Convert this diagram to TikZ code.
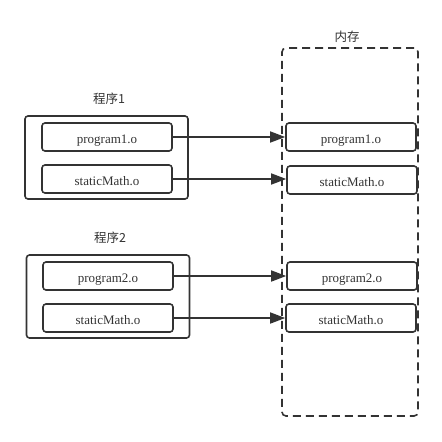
\documentclass[tikz,border=0pt]{standalone}
\usepackage{fontspec}
\setmainfont{Liberation Serif}
\newfontfamily\cjk{Noto Sans CJK SC}
\usetikzlibrary{arrows.meta}
\definecolor{ink}{HTML}{333333}
\tikzset{
    objfile/.style={draw=ink,line width=1.6pt,rounded corners=3pt,minimum width=130pt,minimum height=28pt,
      inner sep=0pt,text height=13pt,text depth=0pt,font=\fontsize{13}{15}\selectfont,text=ink},
    progbox/.style={draw=ink,line width=1.6pt,rounded corners=3pt,minimum width=163pt,minimum height=83pt,inner sep=0pt},
    membox/.style={draw=ink,line width=1.6pt,dash pattern=on 8pt off 5pt,rounded corners=4pt,minimum width=136pt,minimum height=368pt,inner sep=0pt},
    title/.style={font=\cjk\fontsize{12.5}{14}\selectfont,text=ink},
    load/.style={draw=ink,line width=1.6pt,-{Triangle[length=15pt,width=11pt]}},
  }
\begin{document}
\begin{tikzpicture}[x=1pt,y=-1pt]
				  %cadre
				  \useasboundingbox (0,0) rectangle (442,442);
				  %memoire
				  \node[membox] (mem) at (350,232) {};
				  \node[title] (memlbl) at (347,37) {内存};
				  %programme 1
				  \node[progbox] (prog1) at (106.5,157.5) {};
				  \node[title] (prog1lbl) at (109,99) {程序1};
				  \node[objfile] (p1) at (107,137) {program1.o};
				  \node[objfile] (s1) at (107,179) {staticMath.o};
				  %programme 2
				  \node[progbox] (prog2) at (108,296.5) {};
				  \node[title] (prog2lbl) at (110,238) {程序2};
				  \node[objfile] (p2) at (108,276) {program2.o};
				  \node[objfile] (s2) at (108,318) {staticMath.o};
				  %copies en memoire
				  \node[objfile] (mp1) at (351,137) {program1.o};
				  \node[objfile] (ms1) at (352,180) {staticMath.o};
				  \node[objfile] (mp2) at (352,276) {program2.o};
				  \node[objfile] (ms2) at (351,318) {staticMath.o};
				  %chargement
				  \draw[load] (p1.east) -- (mp1.west);
				  \draw[load] (s1.east) -- (s1.east -| ms1.west);
				  \draw[load] (p2.east) -- (mp2.west);
				  \draw[load] (s2.east) -- (ms2.west);
				  \end{tikzpicture}
\end{document}
